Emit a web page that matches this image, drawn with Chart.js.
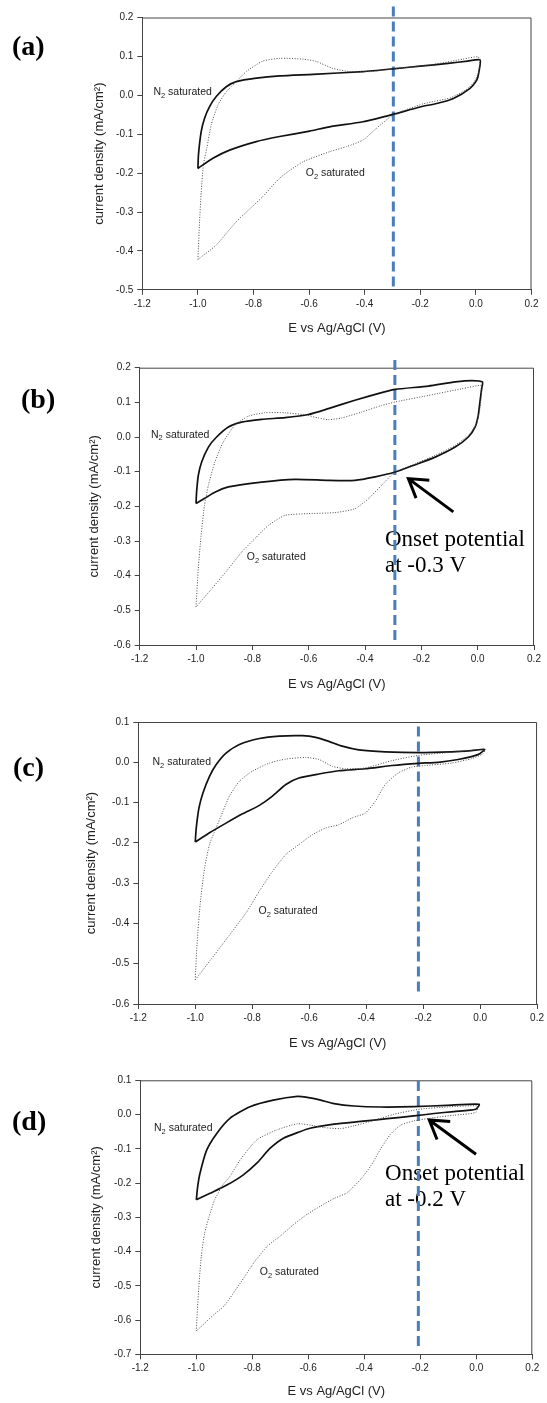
<!DOCTYPE html>
<html>
<head>
<meta charset="utf-8">
<script src="https://cdn.jsdelivr.net/npm/chart.js@4.4.1/dist/chart.umd.min.js"></script>
<style>
  body { margin: 0; background: #fff; }
  #page { position: relative; width: 547px; height: 1403px; overflow: hidden; background: #fff; }
  .panel { position: absolute; left: 0; width: 547px; }
  .tag { position: absolute; font: bold 28px "Liberation Serif", "Times New Roman", serif; line-height: 28px; color: #000; }
</style>
</head>
<body>
<div id="page">
  <div class="panel" style="top:0;height:340px"><canvas id="chartA"></canvas></div>
  <div class="panel" style="top:340px;height:360px"><canvas id="chartB"></canvas></div>
  <div class="panel" style="top:700px;height:360px"><canvas id="chartC"></canvas></div>
  <div class="panel" style="top:1060px;height:343px"><canvas id="chartD"></canvas></div>
  <div class="tag" style="left:12px;top:32px">(a)</div>
  <div class="tag" style="left:21px;top:385px">(b)</div>
  <div class="tag" style="left:13px;top:753px">(c)</div>
  <div class="tag" style="left:12px;top:1107px">(d)</div>
</div>
<script>
// CV curves: potential (V vs Ag/AgCl) and current density (mA/cm2)

// (a)
const potentialA_N2 = [-1.000, -0.998, -0.988, -0.976, -0.958, -0.934, -0.898, -0.862, -0.790, -0.706, -0.586, -0.406, -0.298, -0.201, -0.100, -0.030, 0.015, 0.012, 0.003, -0.021, -0.081, -0.141, -0.201, -0.298, -0.406, -0.526, -0.598, -0.706, -0.790, -0.886, -0.946, -1.000];
const currentA_N2 = [-0.188, -0.153, -0.093, -0.059, -0.029, -0.003, 0.022, 0.035, 0.044, 0.050, 0.054, 0.061, 0.068, 0.075, 0.082, 0.088, 0.091, 0.065, 0.039, 0.018, -0.008, -0.021, -0.030, -0.049, -0.068, -0.081, -0.092, -0.106, -0.119, -0.141, -0.162, -0.188];
const potentialA_O2 = [-1.000, -0.994, -0.988, -0.980, -0.968, -0.952, -0.928, -0.898, -0.862, -0.826, -0.766, -0.706, -0.622, -0.574, -0.514, -0.454, -0.378, -0.298, -0.166, -0.046, 0.008, 0.014, 0.010, -0.005, -0.030, -0.090, -0.190, -0.298, -0.358, -0.406, -0.466, -0.526, -0.622, -0.706, -0.766, -0.862, -0.934, -1.000];
const currentA_O2 = [-0.422, -0.325, -0.248, -0.179, -0.136, -0.076, -0.025, 0.009, 0.035, 0.061, 0.088, 0.095, 0.093, 0.087, 0.069, 0.061, 0.061, 0.068, 0.078, 0.093, 0.099, 0.087, 0.060, 0.036, 0.017, -0.006, -0.022, -0.051, -0.085, -0.115, -0.132, -0.145, -0.171, -0.213, -0.260, -0.325, -0.385, -0.422];

// (b)
const potentialB_N2 = [-1.000, -0.998, -0.992, -0.980, -0.956, -0.927, -0.885, -0.838, -0.767, -0.684, -0.601, -0.530, -0.436, -0.341, -0.293, -0.175, -0.080, -0.021, 0.017, 0.014, 0.008, 0.002, -0.009, -0.033, -0.080, -0.151, -0.222, -0.293, -0.364, -0.436, -0.530, -0.648, -0.767, -0.885, -0.933, -1.000];
const currentB_N2 = [-0.192, -0.159, -0.111, -0.072, -0.029, 0.000, 0.029, 0.043, 0.051, 0.056, 0.065, 0.082, 0.106, 0.128, 0.1375, 0.147, 0.159, 0.163, 0.159, 0.139, 0.101, 0.0625, 0.029, 0.000, -0.029, -0.058, -0.080, -0.101, -0.115, -0.125, -0.125, -0.122, -0.130, -0.144, -0.159, -0.192];
const potentialB_O2 = [-1.000, -0.992, -0.982, -0.970, -0.956, -0.933, -0.903, -0.862, -0.814, -0.755, -0.684, -0.613, -0.566, -0.530, -0.483, -0.412, -0.341, -0.293, -0.175, -0.057, 0.014, 0.014, 0.008, -0.004, -0.033, -0.080, -0.151, -0.222, -0.293, -0.341, -0.388, -0.436, -0.507, -0.601, -0.684, -0.743, -0.791, -0.838, -0.885, -0.944, -1.000];
const currentB_O2 = [-0.490, -0.380, -0.284, -0.197, -0.139, -0.072, -0.014, 0.034, 0.060, 0.070, 0.070, 0.064, 0.055, 0.050, 0.055, 0.072, 0.091, 0.101, 0.120, 0.139, 0.149, 0.130, 0.082, 0.038, 0.005, -0.024, -0.053, -0.077, -0.101, -0.139, -0.178, -0.207, -0.218, -0.221, -0.226, -0.255, -0.293, -0.332, -0.380, -0.4375, -0.490];

// (c)
const potentialC_N2 = [-1.000, -0.9965, -0.987, -0.973, -0.950, -0.927, -0.892, -0.845, -0.775, -0.705, -0.624, -0.577, -0.531, -0.484, -0.426, -0.333, -0.217, -0.100, -0.030, 0.016, -0.007, -0.077, -0.147, -0.217, -0.310, -0.403, -0.496, -0.566, -0.636, -0.682, -0.729, -0.775, -0.834, -0.892, -0.950, -1.000];
const currentC_N2 = [-0.198, -0.163, -0.113, -0.076, -0.035, -0.006, 0.023, 0.044, 0.059, 0.065, 0.066, 0.062, 0.052, 0.040, 0.031, 0.026, 0.024, 0.026, 0.029, 0.032, 0.019, 0.007, 0.000, -0.0025, -0.008, -0.016, -0.021, -0.029, -0.039, -0.055, -0.084, -0.107, -0.128, -0.151, -0.175, -0.198];
const potentialC_O2 = [-1.000, -0.994, -0.983, -0.967, -0.950, -0.927, -0.903, -0.880, -0.845, -0.799, -0.740, -0.682, -0.612, -0.566, -0.519, -0.473, -0.403, -0.310, -0.217, -0.100, 0.016, 0.010, -0.030, -0.100, -0.193, -0.240, -0.286, -0.333, -0.368, -0.403, -0.449, -0.496, -0.542, -0.589, -0.636, -0.682, -0.729, -0.775, -0.822, -0.892, -0.950, -1.000];
const currentC_O2 = [-0.540, -0.453, -0.353, -0.262, -0.204, -0.163, -0.122, -0.084, -0.047, -0.022, -0.002, 0.008, 0.012, 0.007, -0.010, -0.016, -0.014, 0.004, 0.017, 0.025, 0.031, 0.021, 0.009, -0.002, -0.008, -0.012, -0.026, -0.055, -0.097, -0.126, -0.138, -0.155, -0.163, -0.180, -0.204, -0.229, -0.271, -0.320, -0.374, -0.440, -0.494, -0.540];

// (d)
const potentialD_N2 = [-1.000, -0.995, -0.987, -0.963, -0.927, -0.880, -0.808, -0.725, -0.639, -0.604, -0.556, -0.508, -0.437, -0.342, -0.223, -0.104, 0.010, -0.002, -0.080, -0.151, -0.223, -0.318, -0.413, -0.508, -0.594, -0.630, -0.689, -0.737, -0.784, -0.832, -0.891, -0.951, -1.000];
const currentD_N2 = [-0.249, -0.210, -0.172, -0.104, -0.055, -0.011, 0.023, 0.042, 0.053, 0.050, 0.042, 0.032, 0.025, 0.022, 0.023, 0.027, 0.030, 0.0156, 0.0088, 0.003, -0.004, -0.012, -0.020, -0.028, -0.040, -0.050, -0.069, -0.099, -0.142, -0.176, -0.206, -0.230, -0.249];
const potentialD_O2 = [-1.000, -0.996, -0.990, -0.982, -0.970, -0.955, -0.935, -0.905, -0.880, -0.844, -0.784, -0.713, -0.639, -0.592, -0.544, -0.485, -0.437, -0.365, -0.294, -0.199, -0.104, 0.004, -0.002, -0.080, -0.151, -0.223, -0.270, -0.306, -0.342, -0.377, -0.413, -0.461, -0.508, -0.556, -0.604, -0.651, -0.699, -0.746, -0.794, -0.842, -0.901, -0.937, -1.000];
const currentD_O2 = [-0.632, -0.569, -0.491, -0.413, -0.345, -0.300, -0.250, -0.205, -0.181, -0.133, -0.074, -0.045, -0.027, -0.031, -0.038, -0.041, -0.033, -0.017, 0.001, 0.016, 0.022, 0.025, 0.006, -0.002, -0.009, -0.0185, -0.031, -0.057, -0.101, -0.150, -0.189, -0.228, -0.245, -0.267, -0.291, -0.320, -0.354, -0.384, -0.432, -0.491, -0.559, -0.584, -0.632];

// onset markers (dashed line x and its y extent)
const onsetPotential = [-0.297, -0.294, -0.2165, -0.207];
const onsetTop = [0.228, 0.222, 0.089, 0.098];
const onsetBottom = [-0.492, -0.600, -0.577, -0.690];

const yMinimum = [-0.5, -0.6, -0.6, -0.7];
const yMaximum = [0.2, 0.2, 0.1, 0.1];

function toPoints(xs, ys) {
  return xs.map((x, i) => ({ x: x, y: ys[i] }));
}

function fmt(v) {
  if (Math.abs(v) < 1e-9) return "0.0";
  return v.toFixed(1);
}

const SANS = "'Liberation Sans', Arial, sans-serif";
const SERIF = "'Liberation Serif', 'Times New Roman', serif";

const panels = [
  {
    id: "chartA", top: 0, height: 340,
    area: { left: 142.3, right: 531.5, top: 17.5, bottom: 289.8 },
    yTitleX: 99.2, xTitleGap: 38.5,
    n2: toPoints(potentialA_N2, currentA_N2), o2: toPoints(potentialA_O2, currentA_O2),
    n2Label: [-1.160, 0.008], o2Label: [-0.612, -0.2005], note: null,
  },
  {
    id: "chartB", top: 340, height: 360,
    area: { left: 139.7, right: 534.0, top: 367.7, bottom: 645 },
    yTitleX: 94, xTitleGap: 39,
    n2: toPoints(potentialB_N2, currentB_N2), o2: toPoints(potentialB_O2, currentB_O2),
    n2Label: [-1.160, 0.0067], o2Label: [-0.820, -0.346],
    note: { text: ["Onset potential", "at -0.3 V"], x: -0.329, y: [-0.314, -0.389], tail: [-0.0864, -0.216], tip: [-0.246, -0.120] },
  },
  {
    id: "chartC", top: 700, height: 360,
    area: { left: 138.3, right: 539.1, top: 722, bottom: 1004 },
    yTitleX: 91.2, xTitleGap: 39.3,
    n2: toPoints(potentialC_N2, currentC_N2), o2: toPoints(potentialC_O2, currentC_O2),
    n2Label: [-1.150, 0.0], o2Label: [-0.778, -0.370], note: null,
  },
  {
    id: "chartD", top: 1060, height: 343,
    area: { left: 140.3, right: 532.3, top: 1080.3, bottom: 1354.3 },
    yTitleX: 96.7, xTitleGap: 37.4,
    n2: toPoints(potentialD_N2, currentD_N2), o2: toPoints(potentialD_O2, currentD_O2),
    n2Label: [-1.151, -0.040], o2Label: [-0.773, -0.460],
    note: { text: ["Onset potential", "at -0.2 V"], x: -0.326, y: [-0.191, -0.267], tail: [-0.001, -0.116], tip: [-0.168, -0.016] },
  },
];

function drawSubLabel(ctx, x, y, base, sub, rest) {
  ctx.fillStyle = "#222";
  ctx.textAlign = "left";
  ctx.textBaseline = "middle";
  ctx.font = "10.5px " + SANS;
  ctx.fillText(base, x, y);
  let w = ctx.measureText(base).width;
  ctx.font = "7.5px " + SANS;
  ctx.fillText(sub, x + w, y + 3.5);
  w += ctx.measureText(sub).width;
  ctx.font = "10.5px " + SANS;
  ctx.fillText(rest, x + w, y);
}

function drawArrow(ctx, x0, y0, x1, y1) {
  const ang = Math.atan2(y1 - y0, x1 - x0);
  const len = 21, spread = 0.56;
  ctx.save();
  ctx.strokeStyle = "#000";
  ctx.lineWidth = 3;
  ctx.beginPath();
  ctx.moveTo(x0, y0);
  ctx.lineTo(x1, y1);
  ctx.moveTo(x1 - len * Math.cos(ang - spread), y1 - len * Math.sin(ang - spread));
  ctx.lineTo(x1, y1);
  ctx.lineTo(x1 - len * Math.cos(ang + spread), y1 - len * Math.sin(ang + spread));
  ctx.stroke();
  ctx.restore();
}

function makeDecor(p) {
  return {
    id: "decor",
    beforeDatasetsDraw(chart) {
      const ctx = chart.ctx;
      const xs = chart.scales.x, ys = chart.scales.y;
      ctx.save();
      drawSubLabel(ctx, xs.getPixelForValue(p.n2Label[0]), ys.getPixelForValue(p.n2Label[1]), "N", "2", " saturated");
      drawSubLabel(ctx, xs.getPixelForValue(p.o2Label[0]), ys.getPixelForValue(p.o2Label[1]), "O", "2", " saturated");
      if (p.note) {
        ctx.fillStyle = "#000";
        ctx.font = "23px " + SERIF;
        ctx.textAlign = "left";
        ctx.textBaseline = "alphabetic";
        p.note.text.forEach((t, i) => {
          ctx.fillText(t, xs.getPixelForValue(p.note.x), ys.getPixelForValue(p.note.y[i]));
        });
        drawArrow(ctx,
          xs.getPixelForValue(p.note.tail[0]), ys.getPixelForValue(p.note.tail[1]),
          xs.getPixelForValue(p.note.tip[0]), ys.getPixelForValue(p.note.tip[1]));
      }
      // frame top and right
      const a = chart.chartArea;
      ctx.strokeStyle = "#444";
      ctx.lineWidth = 1;
      ctx.beginPath();
      ctx.moveTo(a.left, a.top + 0.5);
      ctx.lineTo(a.right - 0.5, a.top + 0.5);
      ctx.lineTo(a.right - 0.5, a.bottom);
      ctx.stroke();
      ctx.restore();
    },
  };
}

panels.forEach((p, k) => {
  const titleHalf = 13 * 1.2 / 2;
  const padLeft = p.yTitleX - titleHalf;
  const xHeight = p.xTitleGap + titleHalf;
  const padBottom = p.height - (p.area.bottom - p.top) - xHeight;

  new Chart(document.getElementById(p.id), {
    type: "scatter",
    data: {
      datasets: [
        {
          label: "O2 saturated",
          data: p.o2,
          showLine: true,
          borderColor: "#4a4a4a",
          borderWidth: 1,
          borderDash: [1, 1.6],
          pointRadius: 0,
          tension: 0.2,
        },
        {
          label: "N2 saturated",
          data: p.n2,
          showLine: true,
          borderColor: "#111",
          borderWidth: 1.7,
          pointRadius: 0,
          tension: 0.2,
        },
        {
          label: "onset",
          data: [{ x: onsetPotential[k], y: onsetTop[k] }, { x: onsetPotential[k], y: onsetBottom[k] }],
          showLine: true,
          borderColor: "#4a7ebb",
          borderWidth: 3,
          borderDash: [10, 5],
          pointRadius: 0,
          clip: false,
        },
      ],
    },
    options: {
      responsive: true,
      maintainAspectRatio: false,
      animation: false,
      layout: {
        padding: {
          left: padLeft,
          right: 547 - p.area.right,
          top: p.area.top - p.top,
          bottom: padBottom,
        },
      },
      plugins: {
        legend: { display: false },
        tooltip: { enabled: false },
      },
      scales: {
        x: {
          type: "linear",
          min: -1.2,
          max: 0.2,
          ticks: {
            stepSize: 0.2,
            color: "#222",
            padding: 3,
            maxRotation: 0,
            autoSkip: false,
            font: { family: SANS, size: 10 },
            callback: fmt,
          },
          grid: { drawOnChartArea: false, drawTicks: true, tickLength: 5, color: "#444" },
          border: { color: "#444", width: 1 },
          title: {
            display: true,
            text: "E vs Ag/AgCl (V)",
            color: "#222",
            font: { family: SANS, size: 13 },
            padding: { top: 0, bottom: 0 },
          },
          afterFit: (scale) => { scale.height = xHeight; },
        },
        y: {
          type: "linear",
          min: yMinimum[k],
          max: yMaximum[k],
          ticks: {
            stepSize: 0.1,
            color: "#222",
            padding: 4,
            autoSkip: false,
            font: { family: SANS, size: 10 },
            callback: fmt,
          },
          grid: { drawOnChartArea: false, drawTicks: true, tickLength: 5, color: "#444" },
          border: { color: "#444", width: 1 },
          title: {
            display: true,
            text: "current density (mA/cm²)",
            color: "#222",
            font: { family: SANS, size: 13 },
            padding: { top: 0, bottom: 0 },
          },
          afterFit: (scale) => { scale.width = p.area.left - padLeft; },
        },
      },
    },
    plugins: [makeDecor(p)],
  });
});
</script>
</body>
</html>
